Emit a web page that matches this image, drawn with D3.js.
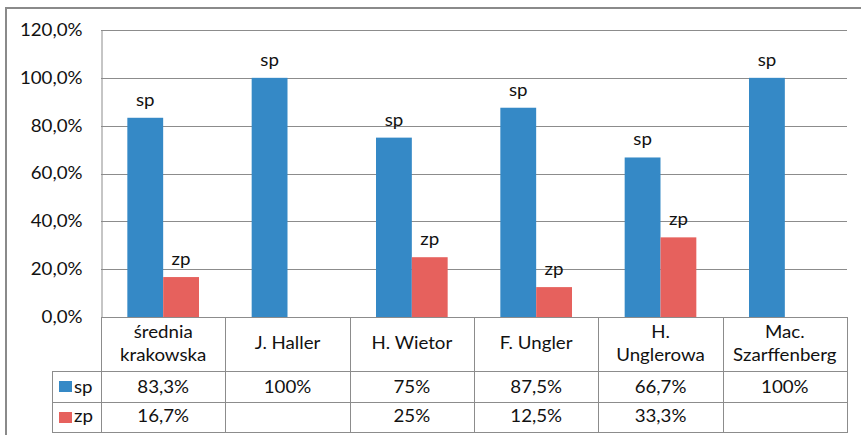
<!DOCTYPE html>
<html>
<head>
<meta charset="utf-8">
<script src="https://cdn.jsdelivr.net/npm/d3@7"></script>
<style>
  html, body { margin: 0; padding: 0; background: #fff; }
  svg { display: block; }
  text { font-family: Lato, "Open Sans", sans-serif; fill: #111; }
</style>
</head>
<body>
<svg id="chart" width="861" height="435"></svg>
<script>
// ---- data ----
const categories = [
  ["średnia", "krakowska"],
  ["J. Haller"],
  ["H. Wietor"],
  ["F. Ungler"],
  ["H.", "Unglerowa"],
  ["Mac.", "Szarffenberg"]
];
const seriesNames = ["sp", "zp"];
const spValues = [0.833, 1.0, 0.75, 0.875, 0.667, 1.0];
const zpValues = [0.167, null, 0.25, 0.125, 0.333, null];
const yTicks = [0, 0.2, 0.4, 0.6, 0.8, 1.0, 1.2];
const seriesColors = ["#3589C6", "#E6615D"];

// ---- layout ----
const W = 861, H = 435;
const plot = { left: 101, right: 847, top: 30, bottom: 317 };
const table = { left: 52, headerBottom: 371, row1Bottom: 402, row2Bottom: 432 };
const FS = 17;
const SX = 1.1; // horizontal stretch of the glyphs as seen in the reference

const locale = d3.formatLocale({ decimal: ",", thousands: " ", grouping: [3], currency: ["", " zł"] });
const tickFmt = locale.format(".1%");
const cellFmt = v => v == null ? "" : tickFmt(v).replace(",0%", "%");

const svg = d3.select("#chart");

function addText(parent, tx, ty, str, anchor) {
  return parent.append("text")
    .attr("transform", `translate(${tx},${ty}) scale(${SX},1)`)
    .attr("text-anchor", anchor || "middle")
    .attr("font-size", FS)
    .text(str);
}

// outer frame (cropped at right/bottom)
svg.append("path")
  .attr("d", `M6,${H + 2} L6,8 L${W + 2},8`)
  .attr("fill", "none").attr("stroke", "#8a8a8a").attr("stroke-width", 2);

const x = d3.scaleBand().domain(d3.range(categories.length)).range([plot.left, plot.right]).padding(0);
const xs = d3.scaleBand().domain(seriesNames).range([0, x.bandwidth()]).paddingInner(0).paddingOuter(0.735);
const y = d3.scaleLinear().domain([0, 1.2]).range([plot.bottom, plot.top]);

// gridlines
svg.append("g").selectAll("line").data(yTicks.filter(t => t > 0)).join("line")
  .attr("x1", plot.left).attr("x2", plot.right)
  .attr("y1", d => Math.round(y(d)) + 0.5).attr("y2", d => Math.round(y(d)) + 0.5)
  .attr("stroke", "#8c8c8c").attr("stroke-width", 1);

// y axis via d3.axisLeft
const yAxis = svg.append("g").attr("transform", `translate(${plot.left + 0.5},0)`)
  .call(d3.axisLeft(y).tickValues(yTicks).tickFormat(tickFmt).tickSize(0).tickPadding(19));
yAxis.select(".domain").attr("stroke", "#8c8c8c");
yAxis.selectAll(".tick text")
  .attr("font-size", FS).attr("font-family", "Lato").attr("fill", "#111")
  .attr("transform", function () {
    const xx = +d3.select(this).attr("x");
    d3.select(this).attr("x", 0);
    return `translate(${xx},0) scale(${SX},1)`;
  });

// bars
const seriesData = [spValues, zpValues];
seriesData.forEach((vals, si) => {
  const name = seriesNames[si];
  const g = svg.append("g");
  const data = vals.map((v, i) => ({ i, v })).filter(d => d.v != null);
  g.selectAll("rect").data(data).join("rect")
    .attr("x", d => x(d.i) + xs(name))
    .attr("width", xs.bandwidth())
    .attr("y", d => y(d.v))
    .attr("height", d => y(0) - y(d.v))
    .attr("fill", seriesColors[si]);
  data.forEach(d => addText(g, x(d.i) + xs(name) + xs.bandwidth() / 2, y(d.v) - 12, name));
});

// x axis line / table
const grid = svg.append("g").attr("stroke", "#8c8c8c").attr("stroke-width", 1).attr("fill", "none");
const hl = (yy, x1, x2) => grid.append("line").attr("x1", x1).attr("x2", x2).attr("y1", yy + 0.5).attr("y2", yy + 0.5);
const vl = (xx, y1, y2) => grid.append("line").attr("x1", xx + 0.5).attr("x2", xx + 0.5).attr("y1", y1).attr("y2", y2);
hl(plot.bottom, plot.left, plot.right + 1);
hl(table.headerBottom, table.left, plot.right + 1);
hl(table.row1Bottom, table.left, plot.right + 1);
hl(table.row2Bottom, table.left, plot.right + 1);
vl(table.left, table.headerBottom, table.row2Bottom + 1);
vl(plot.left, plot.bottom, table.row2Bottom + 1);
d3.range(1, categories.length + 1).forEach(i => {
  const xx = i < categories.length ? Math.round(x(i)) : plot.right;
  vl(xx, plot.bottom, table.row2Bottom + 1);
});

// header labels
const headerMid = 349.5, lineGap = 23.5;
categories.forEach((lines, i) => {
  const t = svg.append("text")
    .attr("transform", `translate(${x(i) + x.bandwidth() / 2},0) scale(${SX},1)`)
    .attr("text-anchor", "middle").attr("font-size", FS);
  lines.forEach((ln, k) => {
    t.append("tspan")
      .attr("x", 0)
      .attr("y", headerMid + (k - (lines.length - 1) / 2) * lineGap)
      .text(ln);
  });
});

// table rows
const rowBaselines = [392.5, 421.5];
const rowTops = [table.headerBottom, table.row1Bottom];
seriesData.forEach((vals, si) => {
  svg.append("rect")
    .attr("x", 59).attr("y", rowTops[si] + 10)
    .attr("width", 13).attr("height", 11)
    .attr("fill", seriesColors[si]);
  addText(svg, 74, rowBaselines[si], seriesNames[si], "start");
  const g = svg.append("g");
  vals.forEach((v, i) => addText(g, x(i) + x.bandwidth() / 2, rowBaselines[si], cellFmt(v)));
});
</script>
</body>
</html>
